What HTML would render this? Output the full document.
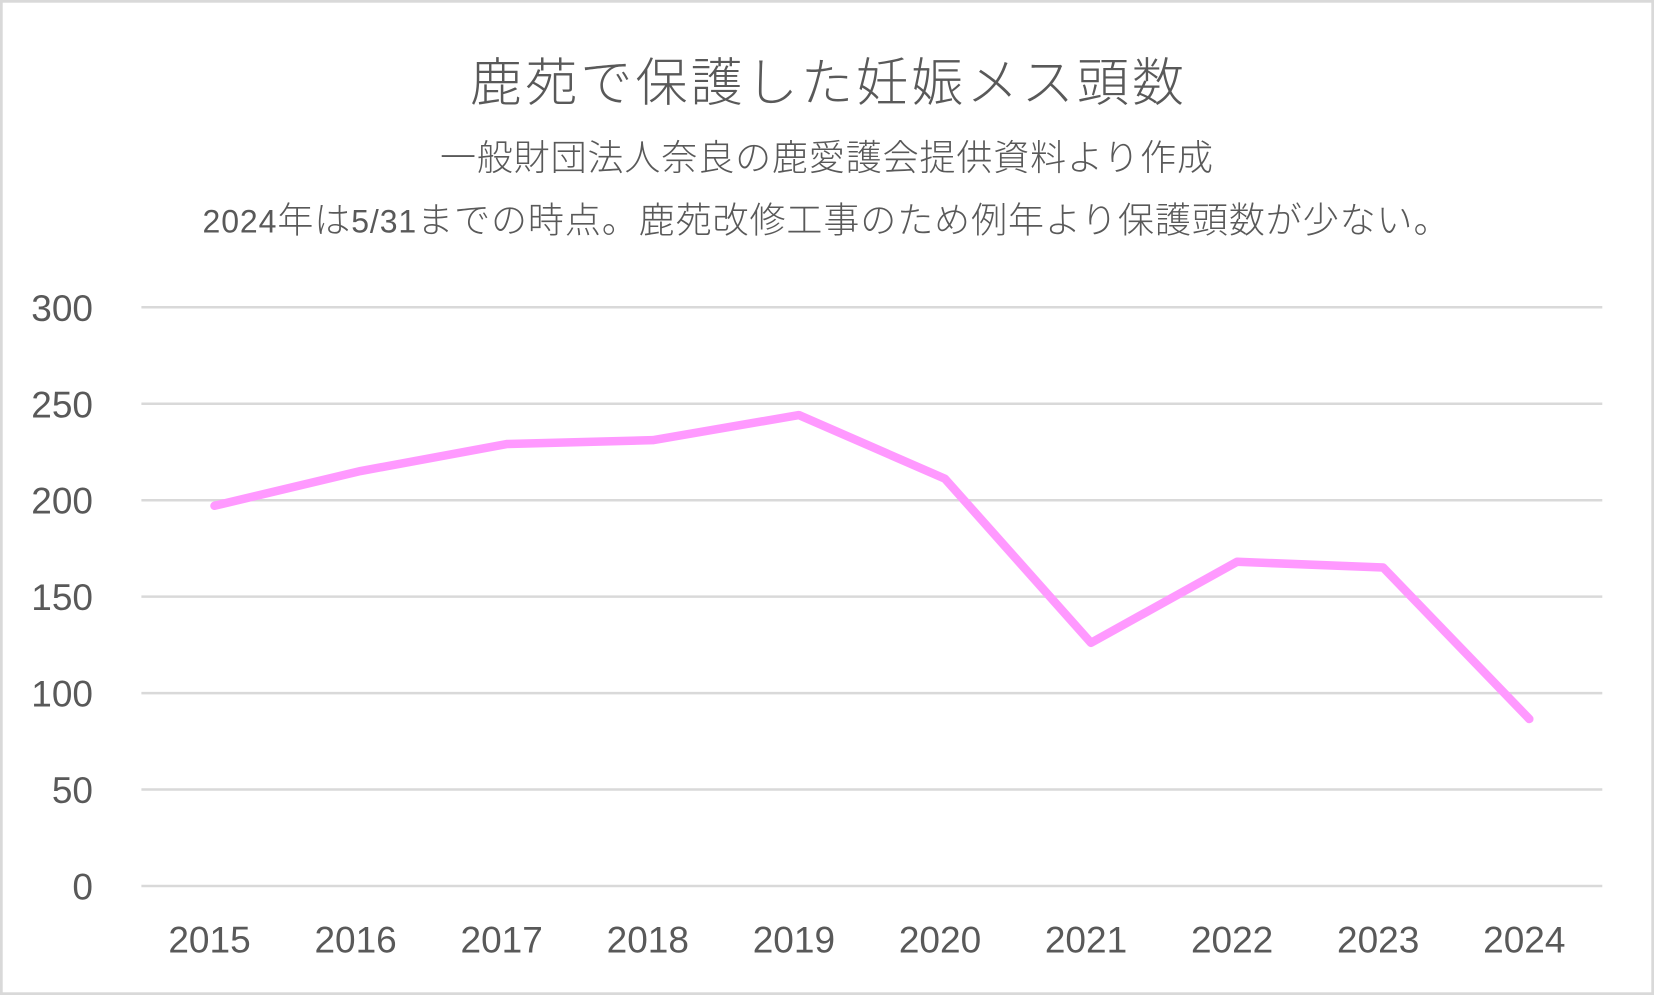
<!DOCTYPE html>
<html>
<head>
<meta charset="utf-8">
<style>
  html, body { margin: 0; padding: 0; background: #ffffff; }
  svg { display: block; }
  text { fill: #595959; }
</style>
</head>
<body>
<svg width="1654" height="995" viewBox="0 0 1654 995" xmlns="http://www.w3.org/2000/svg">
  <rect x="1.35" y="1.35" width="1651.3" height="992.3" fill="#ffffff" stroke="#d9d9d9" stroke-width="2.7"/>

  <!-- Titles -->
  <text x="827" y="101" text-anchor="middle" textLength="714" lengthAdjust="spacing"
        font-family="'Liberation Sans', 'Noto Sans CJK JP', sans-serif" font-size="52" font-weight="300">鹿苑で保護した妊娠メス頭数</text>
  <text x="826.5" y="170" text-anchor="middle" textLength="773" lengthAdjust="spacing"
        font-family="'Liberation Sans', 'Noto Sans CJK JP', sans-serif" font-size="36" font-weight="300">一般財団法人奈良の鹿愛護会提供資料より作成</text>
  <text x="202.5" y="232.5" textLength="1247" lengthAdjust="spacing"
        font-family="'Liberation Sans', 'Noto Sans CJK JP', sans-serif" font-size="36" font-weight="300"><tspan font-size="32" font-weight="400">2024</tspan>年は<tspan font-size="32" font-weight="400">5/31</tspan>までの時点。鹿苑改修工事のため例年より保護頭数が少ない。</text>

  <!-- Gridlines -->
  <g stroke="#d9d9d9" stroke-width="2.5">
    <line x1="141.4" y1="307.3" x2="1602.3" y2="307.3"/>
    <line x1="141.4" y1="403.75" x2="1602.3" y2="403.75"/>
    <line x1="141.4" y1="500.2" x2="1602.3" y2="500.2"/>
    <line x1="141.4" y1="596.65" x2="1602.3" y2="596.65"/>
    <line x1="141.4" y1="693.1" x2="1602.3" y2="693.1"/>
    <line x1="141.4" y1="789.55" x2="1602.3" y2="789.55"/>
    <line x1="141.4" y1="886" x2="1602.3" y2="886"/>
  </g>

  <!-- Y axis labels -->
  <g font-family="'Liberation Sans', sans-serif" font-size="37" text-anchor="end">
    <text x="93" y="320.8">300</text>
    <text x="93" y="417.25">250</text>
    <text x="93" y="513.7">200</text>
    <text x="93" y="610.15">150</text>
    <text x="93" y="706.6">100</text>
    <text x="93" y="803.05">50</text>
    <text x="93" y="899.5">0</text>
  </g>

  <!-- X axis labels -->
  <g font-family="'Liberation Sans', sans-serif" font-size="37" text-anchor="middle">
    <text x="209.5" y="952.5">2015</text>
    <text x="355.6" y="952.5">2016</text>
    <text x="501.7" y="952.5">2017</text>
    <text x="647.8" y="952.5">2018</text>
    <text x="793.9" y="952.5">2019</text>
    <text x="940.0" y="952.5">2020</text>
    <text x="1086.0" y="952.5">2021</text>
    <text x="1232.1" y="952.5">2022</text>
    <text x="1378.2" y="952.5">2023</text>
    <text x="1524.3" y="952.5">2024</text>
  </g>

  <!-- Series -->
  <polyline fill="none" stroke="#ff99ff" stroke-width="8.5" stroke-linecap="round" stroke-linejoin="round"
    points="214.5,505.8 360.6,471.05 506.7,444.03 652.8,440.17 798.9,415.08 945.0,478.77 1091.0,642.82 1237.1,561.76 1383.2,567.55 1529.3,719"/>
</svg>
</body>
</html>
